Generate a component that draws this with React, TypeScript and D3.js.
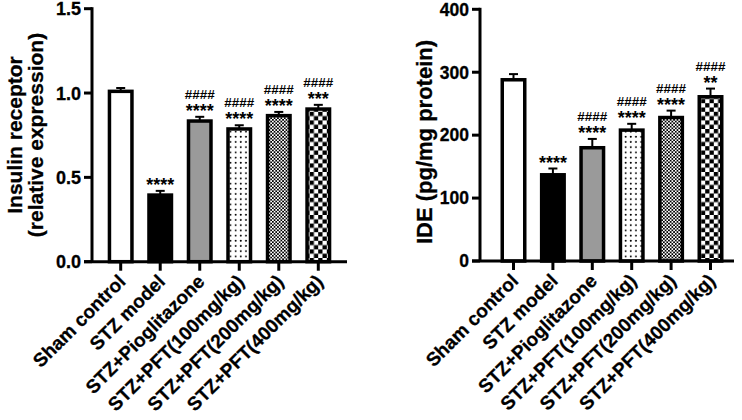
import * as d3 from "d3";
import * as React from "react";

const categories = [
    "Sham control",
    "STZ model",
    "STZ+Pioglitazone",
    "STZ+PFT(100mg/kg)",
    "STZ+PFT(200mg/kg)",
    "STZ+PFT(400mg/kg)",
];

const insulinMean = [1.01, 0.395, 0.834, 0.787, 0.866, 0.905];
const insulinErr = [0.02, 0.025, 0.025, 0.022, 0.022, 0.025];
const insulinStars = ["", "****", "****", "****", "****", "***"];
const insulinHash = ["", "", "####", "####", "####", "####"];
const insulinTicks = [0, 0.5, 1.0, 1.5];

const ideMean = [288, 137, 180, 208, 228, 261];
const ideErr = [9, 10, 14, 10, 11, 13];
const ideStars = ["", "****", "****", "****", "****", "**"];
const ideHash = ["", "", "####", "####", "####", "####"];
const ideTicks = [0, 100, 200, 300, 400];

const fills = ["#ffffff", "#000000", "#9a9a9a", "url(#dots)", "url(#fine)", "url(#checker)"];

const FONT = "'Liberation Sans', Arial, sans-serif";

interface PanelProps {
    mean: number[];
    err: number[];
    stars: string[];
    hash: string[];
    ticks: number[];
    tickFormat: (v: number) => string;
    title: string[];
    titleX: number[];
    titleY: number;
    titleSize: number;
    tickSize: number;
    axisX: number;
    axisEnd: number;
    firstCenter: number;
    lastCenter: number;
    yTop: number;
    yBottom: number;
}

function Panel(p: PanelProps): JSX.Element {
    const y = d3.scaleLinear()
        .domain([p.ticks[0], p.ticks[p.ticks.length - 1]])
        .range([p.yBottom, p.yTop]);
    const x = d3.scalePoint<string>()
        .domain(categories)
        .range([p.firstCenter, p.lastCenter]);

    const barW = 22.5;
    const tickLen = 8;

    return (
        <g fontFamily={FONT} fontWeight="bold">
            {/* bars */}
            {categories.map((c, i) => {
                const cx = x(c) as number;
                const top = y(p.mean[i]);
                const errTop = y(p.mean[i] + p.err[i]);
                return (
                    <g key={c}>
                        <line x1={cx} x2={cx} y1={top} y2={errTop} stroke="#000" strokeWidth={2} />
                        <line x1={cx - 4.5} x2={cx + 4.5} y1={errTop} y2={errTop} stroke="#000" strokeWidth={2} />
                        <rect x={cx - barW / 2} y={top} width={barW} height={p.yBottom - top}
                            fill={fills[i]} stroke="#000" strokeWidth={3.5} />
                        {p.stars[i] && (
                            <text x={cx} y={errTop} textAnchor="middle" fontSize={18}
                                textLength={p.stars[i].length * 7} lengthAdjust="spacingAndGlyphs">
                                {p.stars[i]}
                            </text>
                        )}
                        {p.hash[i] && (
                            <text x={cx} y={errTop - 18} textAnchor="middle" fontSize={12}
                                textLength={30} lengthAdjust="spacingAndGlyphs">
                                {p.hash[i]}
                            </text>
                        )}
                    </g>
                );
            })}

            {/* y axis */}
            <line x1={p.axisX} x2={p.axisX} y1={p.yBottom} y2={p.yTop - 1.5} stroke="#000" strokeWidth={3} />
            {p.ticks.map(t => (
                <g key={t}>
                    <line x1={p.axisX - tickLen} x2={p.axisX} y1={y(t)} y2={y(t)} stroke="#000" strokeWidth={3} />
                    <text x={p.axisX - tickLen - 3} y={y(t)} dy="0.36em" textAnchor="end" fontSize={p.tickSize}
                        stroke="#000" strokeWidth={0.3}>
                        {p.tickFormat(t)}
                    </text>
                </g>
            ))}

            {/* x axis */}
            <line x1={p.axisX - tickLen} x2={p.axisEnd} y1={p.yBottom} y2={p.yBottom} stroke="#000" strokeWidth={3} />
            {categories.map(c => {
                const cx = x(c) as number;
                return (
                    <g key={c}>
                        <line x1={cx} x2={cx} y1={p.yBottom} y2={p.yBottom + 9} stroke="#000" strokeWidth={3} />
                        <text transform={`translate(${cx + 6},${p.yBottom + 21}) rotate(-45)`}
                            textAnchor="end" fontSize={19} stroke="#000" strokeWidth={0.3}>
                            {c}
                        </text>
                    </g>
                );
            })}

            {/* axis title */}
            {p.title.map((t, i) => (
                <text key={t} transform={`translate(${p.titleX[i]},${p.titleY}) rotate(-90)`}
                    textAnchor="middle" fontSize={p.titleSize} stroke="#000" strokeWidth={0.3}>
                    {t}
                </text>
            ))}
        </g>
    );
}

export default function App(): JSX.Element {
    return (
        <svg width={742} height={420} style={{ position: "absolute", left: 0, top: 0, background: "#fff" }}>
            <defs>
                <pattern id="dots" width={5.2} height={5.2} patternUnits="userSpaceOnUse">
                    <rect width={5.2} height={5.2} fill="#fff" />
                    <circle cx={1.6} cy={1.6} r={0.95} fill="#000" />
                </pattern>
                <pattern id="fine" width={3.4} height={3.4} patternUnits="userSpaceOnUse">
                    <rect width={3.4} height={3.4} fill="#fff" />
                    <rect width={1.7} height={1.7} fill="#000" />
                    <rect x={1.7} y={1.7} width={1.7} height={1.7} fill="#000" />
                </pattern>
                <pattern id="checker" width={8.6} height={8.6} patternUnits="userSpaceOnUse">
                    <rect width={8.6} height={8.6} fill="#fff" />
                    <rect width={4.3} height={4.3} fill="#000" />
                    <rect x={4.3} y={4.3} width={4.3} height={4.3} fill="#000" />
                </pattern>
            </defs>
            <Panel
                mean={insulinMean}
                err={insulinErr}
                stars={insulinStars}
                hash={insulinHash}
                ticks={insulinTicks}
                tickFormat={d3.format(".1f")}
                title={["Insulin receptor", "(relative expression)"]}
                titleX={[22, 43]}
                titleY={135}
                titleSize={21}
                tickSize={18}
                axisX={92}
                axisEnd={347}
                firstCenter={120.7}
                lastCenter={318.3}
                yTop={8.7}
                yBottom={261.7}
            />
            <Panel
                mean={ideMean}
                err={ideErr}
                stars={ideStars}
                hash={ideHash}
                ticks={ideTicks}
                tickFormat={d3.format("d")}
                title={["IDE (pg/mg protein)"]}
                titleX={[432]}
                titleY={142}
                titleSize={22}
                tickSize={17.5}
                axisX={480}
                axisEnd={734}
                firstCenter={513.5}
                lastCenter={710.5}
                yTop={9.3}
                yBottom={261}
            />
        </svg>
    );
}
